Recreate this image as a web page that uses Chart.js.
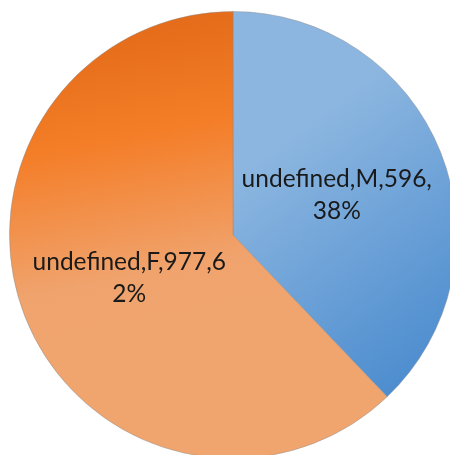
<!DOCTYPE html>
<html>
<head>
<meta charset="utf-8">
<script src="https://cdn.jsdelivr.net/npm/chart.js@4"></script>
<style>
  html, body { margin: 0; padding: 0; background: #fff; overflow: hidden; }
  #wrap { position: absolute; left: 0; top: 0; width: 470px; height: 470px; }
</style>
</head>
<body>
<div id="wrap"><canvas id="pieChart" width="470" height="470"></canvas></div>
<script>
const categories = ["M", "F"];
const values = [596, 977];
const seriesName = "undefined";
// label text as wrapped in the original picture
const labelLines = [
    ["undefined,M,596,", "38%"],
    ["undefined,F,977,6", "2%"]
];

function sliceFill(context) {
    const chart = context.chart;
    const area = chart.chartArea;
    if (!area) return "#999";
    const ctx = chart.ctx;
    const cx = (area.left + area.right) / 2;
    const cy = (area.top + area.bottom) / 2;
    const r = Math.min(area.width, area.height) / 2;
    let g;
    if (context.dataIndex === 0) {
        g = ctx.createLinearGradient(cx, cy - r * 0.25, cx + r * 0.75, cy + r * 0.75);
        g.addColorStop(0, "#8cb6e0");
        g.addColorStop(1, "#4a8bce");
    } else {
        g = ctx.createLinearGradient(cx - r * 0.25, cy - r, cx, cy + r * 0.3);
        g.addColorStop(0, "#e36b19");
        g.addColorStop(0.38, "#f47d27");
        g.addColorStop(0.85, "#f0a36d");
        g.addColorStop(1, "#f0a46e");
    }
    return g;
}

const labelPlugin = {
    id: "sliceLabels",
    afterDatasetsDraw(chart) {
        const ctx = chart.ctx;
        const meta = chart.getDatasetMeta(0);
        ctx.save();
        ctx.font = "24.5px Lato, 'Open Sans', sans-serif";
        ctx.fillStyle = "#1a1a1a";
        ctx.textAlign = "center";
        ctx.textBaseline = "middle";
        meta.data.forEach((arc, i) => {
            const pos = arc.tooltipPosition();
            const lines = labelLines[i];
            const lh = 32;
            const y0 = pos.y + 2 - (lines.length - 1) * lh / 2;
            lines.forEach((ln, j) => ctx.fillText(ln, pos.x, y0 + j * lh));
        });
        ctx.restore();
    }
};

new Chart(document.getElementById("pieChart"), {
    type: "pie",
    data: {
        labels: categories,
        datasets: [{
            label: seriesName,
            data: values,
            backgroundColor: sliceFill,
            borderColor: "rgba(140,140,140,0.45)",
            borderWidth: 1
        }]
    },
    options: {
        responsive: false,
        animation: false,
        layout: { padding: { left: 9, right: 13, top: 11, bottom: 11 } },
        plugins: {
            legend: { display: false },
            tooltip: { enabled: false }
        }
    },
    plugins: [labelPlugin]
});
</script>
</body>
</html>
